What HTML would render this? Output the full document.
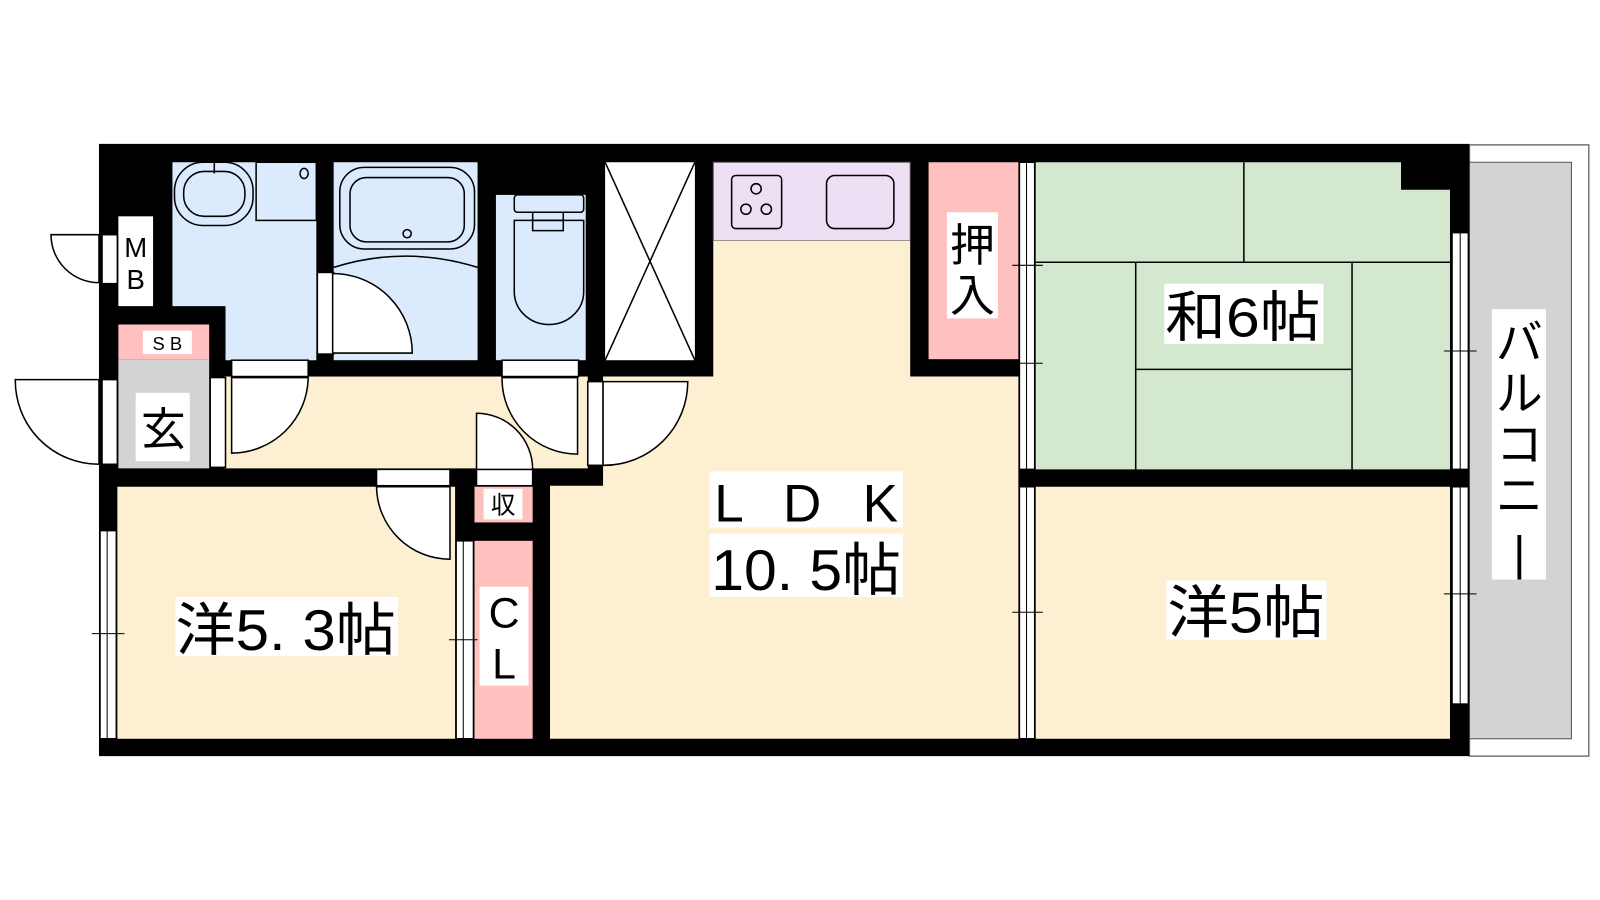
<!DOCTYPE html>
<html><head><meta charset="utf-8"><style>
html,body{margin:0;padding:0;background:#fff;width:1600px;height:900px;overflow:hidden}
svg{display:block}
text{font-family:"Liberation Sans","Noto Sans CJK JP",sans-serif;fill:#000}
</style></head><body>
<svg width="1600" height="900" viewBox="0 0 1568 882" xmlns="http://www.w3.org/2000/svg">
<rect width="1568" height="882" fill="#fff"/>
<!-- balcony -->
<rect x="1440" y="142" width="117" height="599" fill="#fff" stroke="#777" stroke-width="1.5"/>
<rect x="1440" y="159" width="100" height="565" fill="#d3d3d3" stroke="#555" stroke-width="1"/>
<!-- walls -->
<rect x="97" y="141" width="1343" height="600" fill="#000"/>
<!-- rooms -->
<rect x="116" y="212" width="34" height="88" fill="#fff"/>
<rect x="116" y="318" width="89" height="34" fill="#ffc0c0"/>
<rect x="116" y="352" width="89" height="107" fill="#d3d3d3"/>
<polygon points="169,159 310,159 310,353 221,353 221,300 169,300" fill="#dbeafd"/>
<rect x="220" y="369" width="356" height="90" fill="#fdf0d2"/>
<rect x="327" y="159" width="141" height="194" fill="#dbeafd"/>
<rect x="486" y="191" width="88" height="162" fill="#dbeafd"/>
<rect x="593" y="159" width="88" height="194" fill="#fff"/>
<line x1="593" y1="159" x2="681" y2="353" stroke="#000" stroke-width="1.5"/>
<line x1="681" y1="159" x2="593" y2="353" stroke="#000" stroke-width="1.5"/>
<rect x="699" y="159" width="193" height="77" fill="#ede0f5" stroke="#555" stroke-width="1"/>
<polygon points="699,236 892,236 892,369 998,369 998,724 539,724 539,476 591,476 591,369 699,369" fill="#fdf0d2"/>
<rect x="910" y="159" width="88" height="193" fill="#ffc0c0"/>
<polygon points="1015,159 1373,159 1373,186 1421,186 1421,460 1015,460" fill="#d3e8cf"/>
<g stroke="#000" stroke-width="1.5">
<line x1="1219" y1="159" x2="1219" y2="257"/>
<line x1="1015" y1="257" x2="1421" y2="257"/>
<line x1="1113" y1="257" x2="1113" y2="460"/>
<line x1="1325" y1="257" x2="1325" y2="460"/>
<line x1="1113" y1="362" x2="1325" y2="362"/>
</g>
<rect x="1015" y="477" width="406" height="247" fill="#fdf0d2"/>
<rect x="115" y="477" width="331" height="247" fill="#fdf0d2"/>
<rect x="465" y="477" width="57" height="35" fill="#ffc0c0"/>
<rect x="465" y="530" width="57" height="194" fill="#ffc0c0"/>
<!-- fixtures -->
<g fill="none" stroke="#000" stroke-width="1.5">
<rect x="171" y="159" width="77" height="62" rx="28"/>
<rect x="180" y="168" width="60" height="44" rx="20"/>
<line x1="210" y1="159" x2="210" y2="170"/>
<rect x="251" y="159" width="59" height="57"/>
<ellipse cx="298" cy="170" rx="4" ry="5"/>
<rect x="333" y="164" width="132" height="80" rx="24"/>
<rect x="343" y="174" width="112" height="63" rx="16"/>
<circle cx="399" cy="229" r="4"/>
<path d="M327,262 Q397,240 468,262"/>
<rect x="504" y="191" width="68" height="17" rx="3"/>
<rect x="522" y="208" width="30" height="8"/>
<path d="M504,216 h68 v70 a34,32 0 0 1 -68,0 z"/>
<path d="M522,216 v10 h30 v-10"/>
<rect x="717" y="172" width="49" height="52" rx="4"/>
<circle cx="741" cy="185" r="5"/><circle cx="731" cy="205" r="5"/><circle cx="751" cy="205" r="5"/>
<rect x="810" y="172" width="66" height="52" rx="8"/>
</g>
<!-- doors -->
<g fill="#fff" stroke="#000" stroke-width="1.5">
<rect x="100" y="230" width="15" height="48"/>
<path d="M97,230 H50 A47,47 0 0 0 97,277 Z"/>
<rect x="100" y="372" width="15" height="83"/>
<path d="M97,372 H15 A82,82 0 0 0 97,455 Z"/>
<rect x="206" y="370" width="15" height="88"/>
<rect x="227" y="353" width="75" height="16"/>
<path d="M227,370 H302 A75,75 0 0 1 227,444 Z"/>
<rect x="311" y="267" width="16" height="80"/>
<path d="M326,346 V268 A78,78 0 0 1 404,346 Z"/>
<rect x="492" y="353" width="75" height="16"/>
<path d="M566,370 H492 A74,74 0 0 0 566,445 Z"/>
<rect x="576" y="374" width="15" height="82"/>
<path d="M591,374 H674 A82,82 0 0 1 591,456 Z"/>
<rect x="467" y="460" width="55" height="16"/>
<path d="M467,460 V405 A55,55 0 0 1 522,460 Z"/>
<rect x="369" y="460" width="72" height="16"/>
<path d="M441,477 H369 A72,72 0 0 0 441,548 Z"/>
<!-- windows -->
<rect x="98" y="520" width="16" height="204"/>
<rect x="447" y="530" width="17" height="194"/>
<rect x="999" y="159" width="15" height="301"/>
<rect x="999" y="477" width="15" height="247"/>
<rect x="1423" y="228" width="16" height="232"/>
<rect x="1423" y="477" width="16" height="213"/>
</g>
<g stroke="#000" stroke-width="1">
<line x1="105" y1="520" x2="105" y2="724"/><line x1="454" y1="530" x2="454" y2="724"/>
<line x1="1006" y1="159" x2="1006" y2="460"/><line x1="1006" y1="477" x2="1006" y2="724"/>
<line x1="1431" y1="228" x2="1431" y2="460"/><line x1="1431" y1="477" x2="1431" y2="690"/>
<line x1="90" y1="621" x2="122" y2="621"/><line x1="440" y1="627" x2="468" y2="627"/>
<line x1="992" y1="260" x2="1022" y2="260"/><line x1="992" y1="356" x2="1022" y2="356"/>
<line x1="992" y1="600" x2="1022" y2="600"/>
<line x1="1415" y1="344" x2="1447" y2="344"/><line x1="1415" y1="582" x2="1447" y2="582"/>
</g>
<!-- labels -->
<g fill="#fff">
<rect x="140" y="324" width="48" height="23"/>
<rect x="133" y="385" width="53" height="67"/>
<rect x="928" y="208" width="50" height="104"/>
<rect x="1141" y="278" width="156" height="59"/>
<rect x="695" y="462" width="190" height="55"/>
<rect x="695" y="523" width="190" height="62"/>
<rect x="172" y="585" width="218" height="58"/>
<rect x="474" y="479" width="38" height="30"/>
<rect x="470" y="575" width="48" height="97"/>
<rect x="1143" y="569" width="157" height="58"/>
<rect x="1462" y="303" width="53" height="265"/>
</g>
<text x="133" y="252" font-size="27" text-anchor="middle">M</text>
<text x="133" y="283" font-size="27" text-anchor="middle">B</text>
<text x="164" y="343" font-size="18" text-anchor="middle">S B</text>
<text x="160" y="436" font-size="44" text-anchor="middle">玄</text>
<text x="953" y="256" font-size="44" text-anchor="middle">押</text>
<text x="953" y="305" font-size="44" text-anchor="middle">入</text>
<text x="1142" y="330" font-size="54" textLength="152" lengthAdjust="spacingAndGlyphs">和6帖</text>
<text x="700" y="511" font-size="52" textLength="180" lengthAdjust="spacing">L D K</text>
<text x="697" y="578" font-size="56" textLength="186" lengthAdjust="spacingAndGlyphs">10. 5帖</text>
<text x="172" y="637" font-size="56" textLength="216" lengthAdjust="spacingAndGlyphs">洋5. 3帖</text>
<text x="493" y="503" font-size="24" text-anchor="middle">収</text>
<text x="494" y="615" font-size="42" text-anchor="middle">C</text>
<text x="494" y="665" font-size="42" text-anchor="middle">L</text>
<text x="1144" y="620" font-size="56" textLength="154" lengthAdjust="spacingAndGlyphs">洋5帖</text>
<g font-size="46" text-anchor="middle">
<text x="1489" y="352">バ</text>
<text x="1489" y="402">ル</text>
<text x="1489" y="452">コ</text>
<text x="1489" y="502">ニ</text>
<text x="1489" y="558">|</text>
</g>
</svg>
</body></html>
